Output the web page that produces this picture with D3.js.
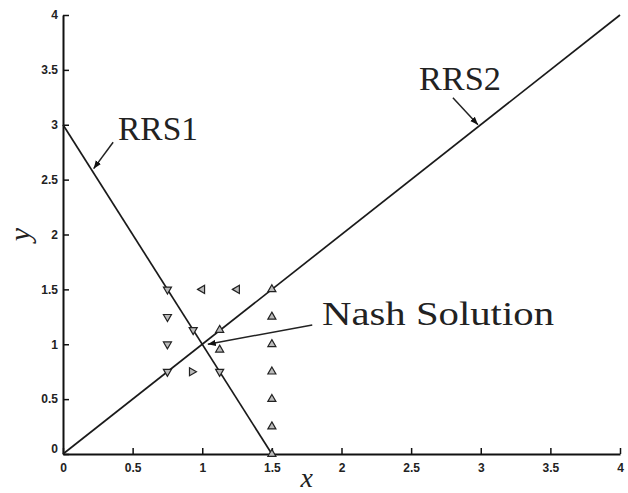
<!doctype html>
<html>

<head>
    <title>RRS</title>
    <script src="https://d3js.org/d3.v7.min.js"></script>
    <style>
      body { margin: 0; background: #fff; }
      .tick text { font-family: "Liberation Sans", Arial, sans-serif; font-weight: bold; font-size: 12px; fill: #222; }
    </style>
</head>

<body>

    <script>

    // data
    var xTicks = [0, 0.5, 1, 1.5, 2, 2.5, 3, 3.5, 4];
    var yTicks = [0, 0.5, 1, 1.5, 2, 2.5, 3, 3.5, 4];
    var rrs1 = [[0, 3], [1.5, 0]];
    var rrs2 = [[0, 0], [4, 4]];
    var markerX = [0.75, 1, 1.25, 1.5, 0.75, 0.935, 1.125, 0.75, 1.125, 1.5, 0.75, 0.925, 1.125, 1.5, 1.5, 1.5, 1.5, 1.5];
    var markerY = [1.5, 1.5, 1.5, 1.5, 1.25, 1.13, 1.13, 1.0, 0.95, 1.25, 0.75, 0.75, 0.75, 1.0, 0.75, 0.5, 0.25, 0];
    var markerDir = ['down', 'left', 'left', 'up', 'down', 'down', 'up', 'down', 'up', 'up', 'down', 'right', 'down', 'up', 'up', 'up', 'up', 'up'];
    var labels = ['RRS1', 'RRS2', 'Nash Solution'];
    var labelPos = [[0.395, 2.86], [2.556, 3.32], [1.86, 1.177]];
    var labelWidth = [80, 82, 232];
    var arrowFrom = [[0.36, 2.84], [2.8, 3.245], [1.79, 1.176]];
    var arrowTo = [[0.22, 2.6], [2.98, 3.0], [1.04, 1.0]];

    var width = 628, height = 493;
    var svg = d3.select('body').append('svg')
                .attr('width', width)
                .attr('height', height);

    var x = d3.scaleLinear().domain([0, 4]).range([63, 620]);
    var y = d3.scaleLinear().domain([0, 4]).range([454, 15]);

    svg.append('defs').append('marker')
       .attr('id', 'head')
       .attr('viewBox', '0 0 10 10')
       .attr('refX', 10).attr('refY', 5)
       .attr('markerWidth', 8).attr('markerHeight', 8)
       .attr('markerUnits', 'userSpaceOnUse')
       .attr('orient', 'auto')
       .append('path').attr('d', 'M0,1 L10,5 L0,9 Z').attr('fill', '#111');

    // axes, ticks point inwards
    var xAxis = svg.append('g').attr('transform', 'translate(0,' + y(0) + ')')
      .call(d3.axisBottom(x).tickValues(xTicks).tickFormat(d3.format('')).tickSizeInner(-6).tickSizeOuter(0).tickPadding(9));
    var yAxis = svg.append('g').attr('transform', 'translate(' + x(0) + ',0)')
      .call(d3.axisLeft(y).tickValues(yTicks).tickFormat(d3.format('')).tickSizeInner(-6).tickSizeOuter(0).tickPadding(5));
    svg.selectAll('.domain').attr('stroke', '#111').attr('stroke-width', 2);
    svg.selectAll('.tick line').attr('stroke', '#111').attr('stroke-width', 1.5);
    yAxis.selectAll('.tick').filter(function (d) { return d === 0; }).select('text').attr('dy', '-0.1em');

    // lines
    var line = d3.line().x(function (d) { return x(d[0]); }).y(function (d) { return y(d[1]); });
    [rrs1, rrs2].forEach(function (l) {
      svg.append('path').attr('d', line(l)).attr('fill', 'none')
         .attr('stroke', '#1a1a1a').attr('stroke-width', 1.7);
    });

    // triangle markers
    var rot = { up: 0, right: 90, down: 180, left: 270 };
    var tri = d3.symbol().type(d3.symbolTriangle).size(28);
    svg.selectAll('.mk').data(markerX).enter().append('path')
       .attr('class', 'mk')
       .attr('d', tri)
       .attr('transform', function (d, i) {
         return 'translate(' + x(d) + ',' + y(markerY[i]) + ') rotate(' + rot[markerDir[i]] + ')';
       })
       .attr('fill', '#bbb')
       .attr('stroke', '#222')
       .attr('stroke-width', 1.2);

    // annotations
    svg.selectAll('.lab').data(labels).enter().append('text')
       .attr('x', function (d, i) { return x(labelPos[i][0]); })
       .attr('y', function (d, i) { return y(labelPos[i][1]); })
       .attr('font-family', '"Liberation Serif", "DejaVu Serif", serif')
       .attr('font-size', 34)
       .attr('fill', '#222')
       .attr('textLength', function (d, i) { return labelWidth[i]; })
       .attr('lengthAdjust', 'spacingAndGlyphs')
       .text(function (d) { return d; });

    svg.selectAll('.arr').data(arrowFrom).enter().append('line')
       .attr('x1', function (d) { return x(d[0]); })
       .attr('y1', function (d) { return y(d[1]); })
       .attr('x2', function (d, i) { return x(arrowTo[i][0]); })
       .attr('y2', function (d, i) { return y(arrowTo[i][1]); })
       .attr('stroke', '#222').attr('stroke-width', 1.5)
       .attr('marker-end', 'url(#head)');

    // axis titles
    svg.append('text')
       .attr('x', x(1.75)).attr('y', 487)
       .attr('text-anchor', 'middle')
       .attr('font-family', '"Liberation Serif", serif')
       .attr('font-style', 'italic').attr('font-size', 28)
       .attr('fill', '#222')
       .text('x');
    svg.append('text')
       .attr('transform', 'translate(30,' + y(2) + ') rotate(-90)')
       .attr('text-anchor', 'middle')
       .attr('font-family', '"Liberation Serif", serif')
       .attr('font-style', 'italic').attr('font-size', 30)
       .attr('fill', '#222')
       .text('y');

    </script>

</body>

</html>
